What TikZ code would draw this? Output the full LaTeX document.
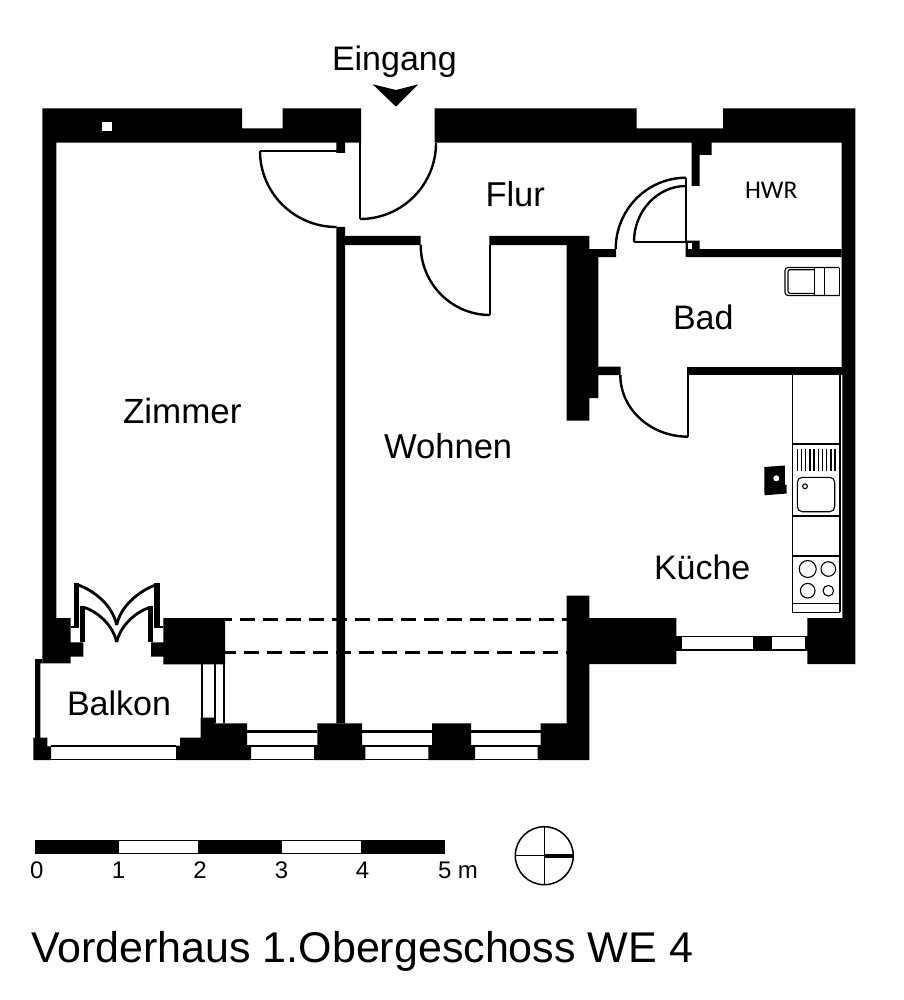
\documentclass[tikz,border=0pt]{standalone}
\usepackage{fontspec}
\setmainfont{Liberation Sans}
\newfontfamily\hwrfont{Carlito}
\usetikzlibrary{calc}
\newcommand{\fsz}[1]{\fontsize{#1}{#1}\selectfont}
\tikzset{
  lbl/.style={anchor=base west,inner sep=0pt,outer sep=0pt,font=\fsz{34.5}},
  num/.style={anchor=base,inner sep=0pt,outer sep=0pt,font=\fsz{24}},
  wall/.style={fill=black,draw=none},
  door/.style={draw=black,line width=2.4pt,line cap=butt,line join=miter},
  win/.style={draw=black,line width=1.5pt},
  fix/.style={draw=black,line width=1.1pt},
  dashwall/.style={draw=black,line width=3pt,dash pattern=on 15pt off 8pt}
}
% quarter arc from a to b, with c the corner of the bounding box
\newcommand{\qarc}[4][door]{\draw[#1] (#2) .. controls ($(#2)!.5523!(#4)$) and ($(#3)!.5523!(#4)$) .. (#3);}
\begin{document}
\begin{tikzpicture}[x=1pt,y=-1pt]
\useasboundingbox (0,0) rectangle (903,1000);
\fill[white] (0,0) rectangle (903,1000);

% dashed beam lines
\draw[dashwall,dash phase=7.7pt] (225,619.7) -- (566.7,619.7);
\draw[dashwall,dash phase=4.3pt] (225,652.7) -- (566.7,652.7);

% outer walls
\fill[wall] (42.3,108.3)--(242,108.3)--(242,128.3)--(282.5,128.3)--(282.5,108.3)--(361,108.3)--(361,142.7)--(345,142.7)--(345,153)--(336.3,153)--(336.3,142.7)--(56.3,142.7)--(56.3,618)--(70.7,618)--(70.7,642.3)--(83.3,642.3)--(83.3,656.7)--(70.7,656.7)--(70.7,663.3)--(42.3,663.3)--cycle;
\fill[wall] (434.7,108.3)--(636.7,108.3)--(636.7,128.3)--(723,128.3)--(723,108.3)--(855.3,108.3)--(855.3,664)--(807.3,664)--(807.3,618)--(842.3,618)--(842.3,375)--(841.5,375)--(841.5,142.7)--(711.7,142.7)--(711.7,155)--(699.7,155)--(699.7,186)--(691.7,186)--(691.7,142.7)--(434.7,142.7)--cycle;
\fill[white] (102.3,122) rectangle (112,131);

% inner walls
\fill[wall] (685.7,240.7)--(699.7,240.7)--(699.7,249)--(841.5,249)--(841.5,257)--(685.7,257)--cycle;
\fill[white] (687.7,243) rectangle (691.7,249);
\fill[wall] (687,366.7) rectangle (841.5,375);
\fill[wall] (489.3,236)--(589.3,236)--(589.3,249)--(616,249)--(616,257)--(598.3,257)--(598.3,366.7)--(620.7,366.7)--(620.7,375)--(598.3,375)--(598.3,398)--(589.3,398)--(589.3,420.7)--(566.7,420.7)--(566.7,245)--(489.3,245)--cycle;
\fill[wall] (336.3,227)--(345,227)--(345,236)--(420.7,236)--(420.7,245)--(345,245)--(345,723.3)--(336.3,723.3)--cycle;
\fill[wall] (566.7,595.7)--(589.3,595.7)--(589.3,618)--(676.3,618)--(676.3,664)--(589.3,664)--(589.3,760)--(537.7,760)--(537.7,746)--(540.7,746)--(540.7,723.3)--(566.7,723.3)--cycle;

% balcony walls
\fill[wall] (163.3,618)--(225,618)--(225,664.3)--(163.3,664.3)--(163.3,656.7)--(151,656.7)--(151,642.3)--(163.3,642.3)--cycle;
\fill[wall] (35,659)--(42.3,659)--(42.3,663.3)--(40.3,663.3)--(40.3,738)--(35,738)--cycle;
\fill[wall] (33.3,737.7)--(47.3,737.7)--(47.3,746.3)--(51,746.3)--(51,760)--(33.3,760)--cycle;
\fill[wall] (176,760)--(176,745.7)--(180,745.7)--(180,737.7)--(200.7,737.7)--(200.7,717.7)--(214.3,717.7)--(214.3,723.3)--(247,723.3)--(247,745.7)--(251,745.7)--(251,760)--cycle;

% window piers
\fill[wall] (317.3,723.3)--(362,723.3)--(362,746)--(365.3,746)--(365.3,760)--(314,760)--(314,746)--(317.3,746)--cycle;
\fill[wall] (432,723.3)--(471,723.3)--(471,746)--(475,746)--(475,760)--(428.3,760)--(428.3,746)--(432,746)--cycle;

% windows
\foreach \a/\b in {247/317.3,362/432,471/540.7}{
  \draw[draw=black,line width=2.4pt] (\a,731.6) -- (\b,731.6);
  \draw[win] (\a,746) -- (\b,746);
  \draw[win] (\a,759.4) -- (\b,759.4);
}
\draw[win] (51,745.8) -- (176,745.8);
\draw[win] (51,759.4) -- (176,759.4);
% side window of the balcony
\draw[draw=black,line width=2pt] (201.7,664) -- (201.7,718);
\draw[draw=black,line width=2pt] (214.7,664) -- (214.7,723);
\draw[draw=black,line width=2pt] (223.6,664) -- (223.6,723);
% kitchen window
\draw[win] (676,636.4) -- (807.5,636.4);
\draw[win] (676,650) -- (807.5,650);
\fill[wall] (676,636) rectangle (681.7,650);
\fill[wall] (753.3,636) rectangle (771.7,650);
\fill[wall] (805,636) rectangle (808,650);

% doors
\draw[door] (336.5,151) -- (260,151);
\qarc{260,151}{336.5,227}{260,227}
\draw[door] (360,142) -- (360,219);
\qarc{360,219}{436,143}{436,219}
\draw[door] (490,245) -- (490,315);
\qarc{490,315}{420.7,245}{420.7,315}
\draw[door] (688,375) -- (688,436.7);
\qarc{688,436.7}{620.3,375}{620.3,436.7}
\draw[door] (686,177.7) -- (686,243);
\qarc{686,177.7}{615.7,249}{615.7,177.7}
\qarc{686,186}{634,242}{634,186}
\draw[door,line width=1.5pt] (634,242) -- (686,242);

% balcony double door
\fill[wall] (74.3,583.3) rectangle (79.3,627);
\fill[wall] (154.3,583.3) rectangle (159.6,627);
\fill[wall] (80,606) rectangle (85,642.3);
\fill[wall] (148.3,606) rectangle (153.3,642.3);
\fill[wall] (70.7,626.3) rectangle (79.3,628);
\fill[wall] (154.3,626.3) rectangle (163.3,628);
\draw[door,line width=2.8pt] (75,584) .. controls (90,588) and (112,603) .. (116.7,625);
\draw[door,line width=2.8pt] (159,584) .. controls (144,588) and (121.4,603) .. (116.7,625);
\draw[door,line width=2.8pt] (82,607) .. controls (93,609) and (112,622) .. (116.7,642);
\draw[door,line width=2.8pt] (152,607) .. controls (141,609) and (121.4,622) .. (116.7,642);

% bathroom fixture
\draw[fix,rounded corners=3pt] (839.3,267.5) -- (785,267.5) -- (785,295.5) -- (839.3,295.5);
\draw[fix,rounded corners=2pt] (814.7,269.7) -- (788,269.7) -- (788,293.3) -- (814.7,293.3);
\draw[fix] (814.7,267.5) -- (814.7,295.5);
\draw[fix] (824.3,267.5) -- (824.3,295.5);
\draw[fix] (839.3,267.5) -- (839.3,295.5);

% kitchen counter
\draw[fix] (792.5,375) -- (792.5,612.3) -- (840,612.3);
\draw[fix] (840,375) -- (840,612.3);
\foreach \y in {444,516,556,603.3}{\draw[fix] (792.5,\y) -- (840,\y);}
\foreach \x in {797.3,801.5,805.7,809.9,814.1,818.3,822.5,826.7,830.9,835.1}{\draw[draw=black,line width=1.4pt] (\x,449) -- (\x,470.7);}
\draw[fix,rounded corners=5pt] (797.3,477.3) rectangle (834.7,511.7);
\draw[fix] (805,486.3) circle[radius=2.4pt];
\draw[fix] (807.7,569) circle[radius=8.5pt];
\draw[fix] (828.3,569) circle[radius=7.3pt];
\draw[fix] (807.7,590.7) circle[radius=7.3pt];
\draw[fix] (828.3,590.7) circle[radius=5.3pt];

% chimney
\fill[wall] (764.3,467)--(784.8,465.5)--(785,485)--(786.5,485)--(786.5,493.5)--(764.5,495.3)--cycle;
\fill[white] (776.3,478.3) circle[radius=3pt];

% entrance marker
\fill[wall] (372.7,84.3)--(396,90)--(418.3,84.3)--(396,106.7)--cycle;

% scale bar
\draw[draw=black,line width=1pt,fill=black] (35,840.3) rectangle (118,853);
\draw[draw=black,line width=1pt,fill=white] (118,840.3) rectangle (198.7,853);
\draw[draw=black,line width=1pt,fill=black] (198.7,840.3) rectangle (281.3,853);
\draw[draw=black,line width=1pt,fill=white] (281.3,840.3) rectangle (361.7,853);
\draw[draw=black,line width=1pt,fill=black] (361.7,840.3) rectangle (444.3,853);

% north sign
\draw[draw=black,line width=1.5pt] (544.3,855.7) circle[radius=29pt];
\draw[draw=black,line width=1.3pt] (544.3,826.7) -- (544.3,884.7);
\draw[draw=black,line width=1.3pt] (515.3,855.7) -- (544.3,855.7);
\draw[draw=black,line width=3.6pt] (544.3,855.7) -- (573.3,855.7);

% labels
\node[lbl,font=\fsz{34}] (eingang) at (332,70.5) {Eingang};
\node[lbl] (flur) at (485.5,207) {Flur};
\node[lbl,font=\hwrfont\fsz{25.5}] (hwr) at (745,198.3) {HWR};
\node[lbl,font=\fsz{34}] (bad) at (673,329.3) {Bad};
\node[lbl,font=\fsz{35}] (zimmer) at (123,423) {Zimmer};
\node[lbl,font=\fsz{34.6}] (wohnen) at (384,458) {Wohnen};
\node[lbl,font=\fsz{34}] (kueche) at (654,579.3) {Küche};
\node[lbl,font=\fsz{34}] (balkon) at (67,715) {Balkon};
\node[num] (n0) at (36.7,878) {0};
\node[num] (n1) at (118.5,878) {1};
\node[num] (n2) at (200,878) {2};
\node[num] (n3) at (281.5,878) {3};
\node[num] (n4) at (362.5,878) {4};
\node[lbl,font=\fsz{24}] (n5) at (438,878) {5 m};
\node[lbl,font=\fsz{43}] (title) at (31,962.7) {Vorderhaus 1.Obergeschoss WE 4};
\end{tikzpicture}
\end{document}
